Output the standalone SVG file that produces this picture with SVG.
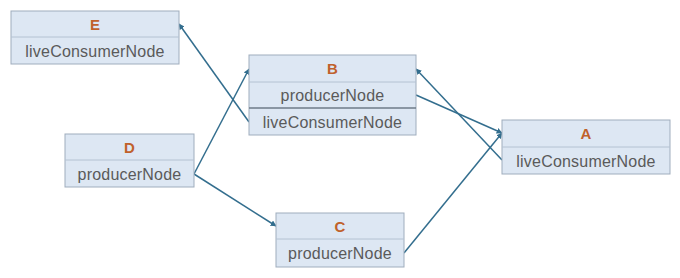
<svg xmlns="http://www.w3.org/2000/svg" width="680" height="278" viewBox="0 0 680 278">
  <style>
    .box { fill: #dde7f3; stroke: #9fadbd; stroke-width: 1; }
    .sep { stroke: #b4c2d2; stroke-width: 1; }
    .sep-dark { stroke: #6e7b89; stroke-width: 1.5; }
    .title { font-family: "Liberation Sans", Arial, sans-serif; font-size: 15px; font-weight: bold; fill: #c0612b; text-anchor: middle; }
    .field { font-family: "Liberation Sans", Arial, sans-serif; font-size: 16px; letter-spacing: 0.2px; fill: #5a5a5a; text-anchor: middle; }
    .edge { fill: none; stroke: #336e8e; stroke-width: 1.5; marker-end: url(#arrow); }
  </style>
  <defs>
    <marker id="arrow" viewBox="0 0 10 10" refX="9" refY="5" markerWidth="6" markerHeight="6" markerUnits="userSpaceOnUse" orient="auto">
      <path d="M0,0 L10,5 L0,10 z" fill="#336e8e"/>
    </marker>
  </defs>
  <rect width="680" height="278" fill="#ffffff"/>

  <g id="connectors">
    <line class="edge" x1="249" y1="122" x2="179" y2="24"/>
    <line class="edge" x1="194" y1="174" x2="249" y2="69"/>
    <line class="edge" x1="194" y1="174" x2="276" y2="226"/>
    <line class="edge" x1="416" y1="95" x2="502" y2="133"/>
    <line class="edge" x1="502" y1="160" x2="416" y2="69"/>
    <line class="edge" x1="404" y1="253" x2="502" y2="133"/>
  </g>

  <g id="node-E">
    <rect class="box" x="11" y="11" width="168" height="53"/>
    <line class="sep" x1="11" y1="37" x2="179" y2="37"/>
    <text class="title" x="95" y="30">E</text>
    <text class="field" x="95" y="57">liveConsumerNode</text>
  </g>

  <g id="node-B">
    <rect class="box" x="249" y="55" width="167" height="80"/>
    <line class="sep" x1="249" y1="82" x2="416" y2="82"/>
    <line class="sep-dark" x1="249" y1="108" x2="416" y2="108"/>
    <text class="title" x="332.5" y="74">B</text>
    <text class="field" x="332.5" y="101">producerNode</text>
    <text class="field" x="332.5" y="128">liveConsumerNode</text>
  </g>

  <g id="node-A">
    <rect class="box" x="502" y="120" width="168" height="54"/>
    <line class="sep" x1="502" y1="147" x2="670" y2="147"/>
    <text class="title" x="586" y="139">A</text>
    <text class="field" x="586" y="167">liveConsumerNode</text>
  </g>

  <g id="node-D">
    <rect class="box" x="65" y="134" width="129" height="53"/>
    <line class="sep" x1="65" y1="160" x2="194" y2="160"/>
    <text class="title" x="129.5" y="153">D</text>
    <text class="field" x="129.5" y="180">producerNode</text>
  </g>

  <g id="node-C">
    <rect class="box" x="276" y="213" width="128" height="54"/>
    <line class="sep" x1="276" y1="239" x2="404" y2="239"/>
    <text class="title" x="340" y="232">C</text>
    <text class="field" x="340" y="259">producerNode</text>
  </g>
</svg>
